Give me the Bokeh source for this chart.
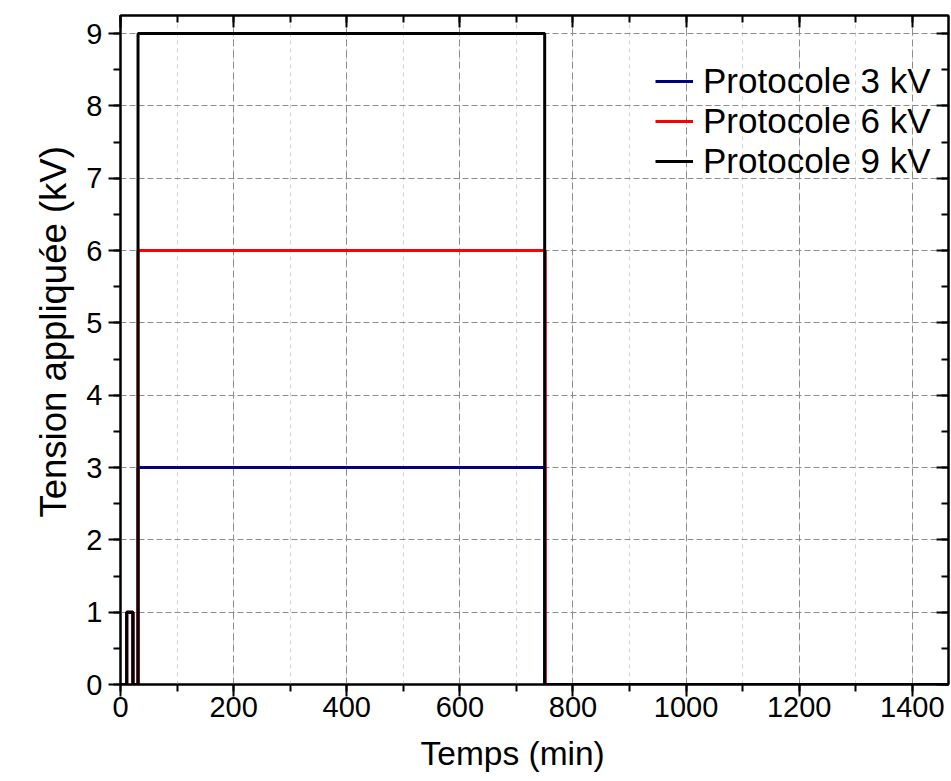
from bokeh.plotting import figure
from bokeh.models import (LinearAxis, Range1d, SingleIntervalTicker, Legend, LegendItem,
                          CustomJSTickFormatter, Title)
from bokeh.embed import file_html
from bokeh.resources import INLINE

# ---- data ----
t_3kV = [0, 11, 11, 22, 22, 31, 31, 750, 750, 1464]
v_3kV = [0, 0, 1, 1, 0, 0, 3, 3, 0, 0]
t_6kV = [0, 11, 11, 22, 22, 31, 31, 751, 751, 1464]
v_6kV = [0, 0, 1, 1, 0, 0, 6, 6, 0, 0]
t_9kV = [0, 11, 11, 22, 22, 31, 31, 750, 750, 1464]
v_9kV = [0, 0, 1, 1, 0, 0, 9, 9, 0, 0]
labels = ["Protocole 3 kV", "Protocole 6 kV", "Protocole 9 kV"]
colors = ["#000080", "#FF0000", "#000000"]
x_title = "Temps (min)"
y_title = "Tension appliquée (kV)"
x_max = 1464
y_max = 9.25

FONT = "Liberation Sans"

p = figure(frame_width=828, frame_height=669,
           x_range=Range1d(0, x_max), y_range=Range1d(0, y_max),
           output_backend="svg", toolbar_location=None,
           min_border_left=120, min_border_top=15, min_border_right=3,
           min_border_bottom=92, background_fill_color="white",
           border_fill_color="white")

xt = SingleIntervalTicker(interval=200, num_minor_ticks=2)
yt = SingleIntervalTicker(interval=1, num_minor_ticks=2)

p.xaxis.ticker = xt
p.yaxis.ticker = yt

# grids
p.xgrid.ticker = xt
p.ygrid.ticker = yt
p.xgrid.grid_line_color = "#8c8c8c"
p.xgrid.grid_line_dash = "7 4"
p.xgrid.minor_grid_line_color = "#d2d2d2"
p.xgrid.minor_grid_line_dash = "4 4"
p.ygrid.grid_line_color = "#8c8c8c"
p.ygrid.grid_line_dash = "6 3"

p.outline_line_color = "black"
p.outline_line_width = 2

def style_axis(ax, inward=False, labels_on=True):
    ax.axis_line_color = "black"
    ax.axis_line_width = 2
    ax.major_tick_line_color = "black"
    ax.minor_tick_line_color = "black"
    ax.major_tick_line_width = 2
    ax.minor_tick_line_width = 2
    if inward:
        ax.major_tick_in = 12
        ax.major_tick_out = 0
        ax.minor_tick_in = 7
        ax.minor_tick_out = 0
    else:
        ax.major_tick_in = 0
        ax.major_tick_out = 12
        ax.minor_tick_in = 0
        ax.minor_tick_out = 7
    if labels_on:
        ax.major_label_text_font = FONT
        ax.major_label_text_font_size = "29px"
        ax.major_label_text_color = "black"
    else:
        ax.formatter = CustomJSTickFormatter(code="return ''")
        ax.major_label_standoff = 0

bx = p.xaxis[0]
ly = p.yaxis[0]
style_axis(bx)
style_axis(ly)
bx.major_label_standoff = 0
ly.major_label_standoff = 6

ra = LinearAxis(ticker=yt)
style_axis(ra, inward=True, labels_on=False)
p.add_layout(ra, "right")
ta = LinearAxis(ticker=xt)
style_axis(ta, inward=True, labels_on=False)
p.add_layout(ta, "above")

# invisible spacer between the left axis and its title (blank labels give it width)
spacer = LinearAxis(ticker=SingleIntervalTicker(interval=100, num_minor_ticks=0),
                    formatter=CustomJSTickFormatter(code="return ' '"),
                    major_label_text_font=FONT, major_label_text_font_size="29px",
                    major_label_text_alpha=0,
                    major_label_standoff=19, major_tick_in=0, major_tick_out=0,
                    minor_tick_in=0, minor_tick_out=0, axis_line_alpha=0,
                    major_tick_line_alpha=0, minor_tick_line_alpha=0)
p.add_layout(spacer, "left")

# axis titles (positioned as in the reference, not centred on the frame)
xt_title = Title(text=x_title, align="left", offset=300, standoff=30,
                 vertical_align="top",
                 text_font=FONT, text_font_size="33.5px", text_font_style="normal",
                 text_color="black")
p.add_layout(xt_title, "below")
yt_title = Title(text=y_title, align="left", offset=167, standoff=16,
                 vertical_align="top",
                 text_font=FONT, text_font_size="36.5px", text_font_style="normal",
                 text_color="black")
p.add_layout(yt_title, "left")

r3 = p.line(t_3kV, v_3kV, line_color=colors[0], line_width=3)
r6 = p.line(t_6kV, v_6kV, line_color=colors[1], line_width=3)
r9 = p.line(t_9kV, v_9kV, line_color=colors[2], line_width=3)

legend = Legend(items=[LegendItem(label=labels[0], renderers=[r3]),
                       LegendItem(label=labels[1], renderers=[r6]),
                       LegendItem(label=labels[2], renderers=[r9])],
                location=(535, 503))
legend.label_text_font = FONT
legend.label_text_font_size = "35px"
legend.label_text_color = "black"
legend.glyph_width = 38
legend.glyph_height = 20
legend.label_standoff = 10
legend.padding = 0
legend.margin = 0
legend.spacing = -3
legend.border_line_alpha = 0
legend.background_fill_alpha = 0
p.add_layout(legend, "center")

open("out.html", "w").write(file_html(p, INLINE))
